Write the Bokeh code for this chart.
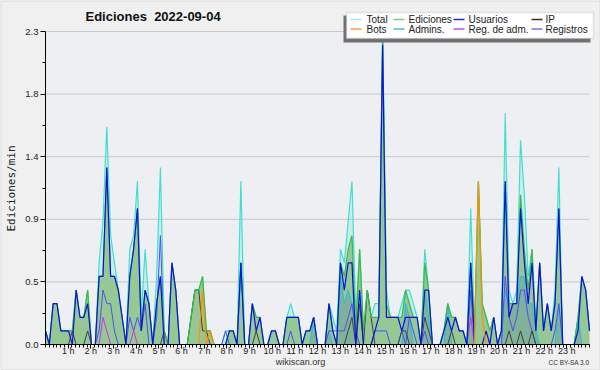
import numpy as np
from math import pi
from bokeh.plotting import figure
from bokeh.models import ColumnDataSource, Range1d, FixedTicker, Label, BoxAnnotation, Arrow
from bokeh.embed import file_html
from bokeh.resources import INLINE

# ---- data (edits per minute, 143 samples over the day) ----
total = [0.1, 0, 0.3, 0.3, 0.1, 0.1,
         0.1, 0.1, 0.4, 0.2, 0.2, 0.4,
         0, 0, 0.6, 0.9, 1.6, 0.8,
         0.6, 0.4, 0.2, 0, 0.7, 0.8,
         1.2, 0.2, 0.7, 0.3, 0, 0.5,
         1.3, 0.1, 0, 0.6, 0.4, 0,
         0, 0, 0.2, 0.4, 0.4, 0.5,
         0.1, 0.1, 0, 0, 0, 0.1,
         0.1, 0.1, 0, 1.2, 0, 0,
         0.3, 0.2, 0.2, 0, 0, 0.1,
         0.1, 0, 0, 0.2, 0.3, 0.2,
         0.2, 0, 0.1, 0.1, 0.2, 0,
         0, 0, 0.3, 0.2, 0.1, 0.7,
         0.6, 0.9, 1.2, 0.2, 0.7, 0.1,
         0.4, 0.2, 0.3, 0.3, 2.3, 0.4,
         0.2, 0.2, 0.2, 0.3, 0.4, 0.4,
         0.3, 0.2, 0, 0.7, 0.4, 0,
         0, 0, 0.1, 0.3, 0.2, 0.2,
         0.1, 0.1, 0, 1.0, 0.1, 1.2,
         0.3, 0.2, 0.1, 0.2, 0, 0.1,
         1.7, 0.4, 0.3, 0.4, 1.5, 1.1,
         0.5, 0.7, 0.1, 0.6, 0.1, 0.3,
         0.1, 0.4, 1.3, 0, 0, 0,
         0, 0.2, 0.5, 0.4, 0.1]

ediciones = [0.1, 0, 0.3, 0.3, 0.1, 0.1,
             0.1, 0.1, 0.4, 0.2, 0.2, 0.4,
             0, 0, 0.5, 0.5, 1.3, 0.5,
             0.5, 0.4, 0.2, 0, 0.5, 0.7,
             1.0, 0.1, 0.4, 0.3, 0, 0.3,
             0.5, 0.1, 0, 0.6, 0.4, 0,
             0, 0, 0.2, 0.4, 0.4, 0.5,
             0.1, 0.1, 0, 0, 0, 0,
             0.1, 0.1, 0, 0.6, 0, 0,
             0.3, 0.2, 0.2, 0, 0, 0.1,
             0.1, 0, 0, 0.2, 0.2, 0.2,
             0.2, 0, 0.1, 0.1, 0.2, 0,
             0, 0, 0.3, 0.1, 0, 0.6,
             0.5, 0.7, 0.8, 0.1, 0.7, 0.1,
             0.4, 0.2, 0.2, 0.2, 2.3, 0.3,
             0.2, 0.2, 0.2, 0.2, 0.4, 0.3,
             0.2, 0.2, 0, 0.6, 0.4, 0,
             0, 0, 0.1, 0.3, 0.2, 0.2,
             0.1, 0.1, 0, 0.6, 0.1, 1.2,
             0.3, 0.2, 0.1, 0.2, 0, 0.1,
             1.2, 0.3, 0.3, 0.3, 1.1, 0.7,
             0.4, 0.7, 0.1, 0.6, 0.1, 0.3,
             0.1, 0.3, 1.0, 0, 0, 0,
             0, 0.2, 0.5, 0.4, 0.1]

usuarios = [0.1, 0, 0.3, 0.3, 0.1, 0.1,
            0.1, 0, 0.4, 0.2, 0.2, 0.3,
            0, 0, 0.5, 0.5, 1.3, 0.5,
            0.5, 0.4, 0.2, 0, 0.5, 0.7,
            1.0, 0.1, 0.4, 0.3, 0, 0.3,
            0.5, 0, 0, 0.6, 0.4, 0,
            0, 0, 0, 0, 0, 0,
            0, 0, 0, 0, 0, 0,
            0.1, 0.1, 0, 0.6, 0, 0,
            0.3, 0.1, 0.2, 0, 0, 0.1,
            0.1, 0, 0, 0.2, 0.2, 0.2,
            0.2, 0, 0.1, 0.1, 0.2, 0,
            0, 0, 0.3, 0.1, 0, 0.6,
            0.4, 0.6, 0.6, 0, 0.4, 0,
            0, 0, 0.1, 0.2, 2.2, 0.2,
            0.2, 0.2, 0.2, 0.1, 0.2, 0.2,
            0.2, 0.2, 0, 0.4, 0.4, 0,
            0, 0, 0.1, 0.2, 0.1, 0.2,
            0.1, 0.1, 0, 0.6, 0, 0,
            0, 0.1, 0, 0.2, 0, 0.1,
            1.2, 0.2, 0.3, 0.3, 1.0, 0.6,
            0.3, 0.6, 0.1, 0.6, 0.1, 0.3,
            0.1, 0.3, 1.0, 0, 0, 0,
            0, 0.1, 0.5, 0.4, 0.1]

ip = [0, 0, 0, 0, 0, 0,
      0, 0.1, 0, 0, 0, 0.1,
      0, 0, 0, 0, 0, 0,
      0, 0, 0, 0, 0, 0,
      0, 0, 0, 0, 0, 0,
      0, 0.1, 0, 0, 0, 0,
      0, 0, 0.2, 0.4, 0.4, 0.1,
      0.1, 0, 0, 0, 0, 0,
      0, 0, 0, 0, 0, 0,
      0, 0.1, 0, 0, 0, 0,
      0, 0, 0, 0, 0, 0,
      0, 0, 0, 0, 0, 0,
      0, 0, 0, 0, 0, 0,
      0, 0.1, 0.2, 0, 0.3, 0,
      0.4, 0.2, 0, 0, 0, 0,
      0, 0, 0, 0.1, 0.1, 0,
      0, 0, 0, 0.2, 0.1, 0,
      0, 0, 0, 0, 0.1, 0,
      0, 0, 0, 0, 0, 0,
      0, 0, 0, 0, 0, 0,
      0, 0.1, 0, 0, 0.1, 0,
      0, 0.1, 0, 0, 0, 0,
      0, 0, 0, 0, 0, 0,
      0, 0, 0, 0, 0]

bots = [0] * 41 + [0.4, 0, 0.1] + [0] * 69 + [1.2, 0.2] + [0] * 28

admins = [0] * 70 + [0.2, 0, 0, 0, 0.1, 0, 0, 0.5,
                     0.3, 0.4, 0.3, 0.1] + [0] * 12 + [
          0.3, 0.2, 0, 0, 0, 0.4, 0.2, 0, 0, 0, 0, 0.3, 0, 0,
          0, 0, 0, 0.6, 0, 0, 0, 0, 0, 0, 0, 0,
          0.4, 0.3, 0.3, 0.3, 0.5, 0.5, 0.3, 0.3, 0.1, 0, 0, 0,
          0, 0, 0.3, 0, 0, 0, 0, 0.2, 0, 0, 0]

reg_adm = [0] * 15 + [0.2, 0.1, 0, 0, 0, 0, 0, 0, 0.1] + [0] * 87 + [0.2] + [0] * 31

registros = [0, 0, 0, 0, 0, 0,
             0, 0, 0, 0, 0, 0,
             0, 0, 0.1, 0.4, 0.3, 0.3,
             0.1, 0, 0, 0, 0.2, 0.1,
             0.2, 0.1, 0.3, 0, 0, 0.2,
             0.8, 0, 0, 0, 0, 0,
             0, 0, 0, 0, 0, 0,
             0, 0, 0, 0, 0, 0.1,
             0, 0, 0, 0.6, 0, 0,
             0, 0, 0, 0, 0, 0,
             0, 0, 0, 0, 0.1, 0,
             0, 0, 0, 0, 0, 0,
             0, 0, 0.1, 0.1, 0.1, 0.1,
             0.1, 0.2, 0.3, 0.1, 0, 0,
             0, 0, 0.1, 0.1, 0.1, 0.1,
             0, 0, 0, 0.1, 0, 0.2,
             0.1, 0, 0, 0.1, 0, 0,
             0, 0, 0, 0, 0, 0,
             0, 0, 0, 0.4, 0, 0,
             0, 0, 0, 0, 0, 0,
             0.5, 0.2, 0.1, 0.2, 0.4, 0.4,
             0.2, 0.1, 0, 0, 0, 0,
             0, 0.1, 0.3, 0, 0, 0,
             0, 0, 0, 0, 0]

x_tick_hours = list(range(1, 24))
x_tick_labels = [f"{h} h" for h in x_tick_hours]
y_tick_values = [0, 0.46, 0.92, 1.38, 1.84, 2.3]
y_tick_labels = ["0.0", "0.5", "0.9", "1.4", "1.8", "2.3"]

legend_rows = [[("Total", "#a8e6df"), ("Ediciones", "#80cc80"), ("Usuarios", "#2a2ad0"), ("IP", "#333333")],
               [("Bots", "#ff9a33"), ("Admins.", "#33c8dd"), ("Reg. de adm.", "#cc44ee"), ("Registros", "#7070ee")]]

# ---- layout: the frame covers the whole canvas; plot area is 45..589 x 31..344 px ----
W, H = 600, 370
PL, PR, PT, PB = 45, 589, 31, 344
XMAX, YMAX = 24.0, 2.3
sx = (PR - PL) / XMAX
sy = (PB - PT) / YMAX

def dx(px):
    return (px - PL) / sx

def dy(py):
    return (PB - py) / sy

N = len(total)
hours = np.linspace(0, XMAX, N)
src = ColumnDataSource(dict(x=hours, total=total, ed=ediciones, us=usuarios, ip=ip,
                            bots=bots, adm=admins, radm=reg_adm, reg=registros))

p = figure(width=W, height=H, x_range=Range1d(dx(0), dx(W)), y_range=Range1d(dy(H), dy(0)),
           output_backend="svg", toolbar_location=None, title=None,
           min_border_left=0, min_border_right=0, min_border_top=0, min_border_bottom=0)
p.background_fill_color = "#f0f0f0"
p.border_fill_color = "#f0f0f0"
p.outline_line_color = None
p.xgrid.visible = False
p.ygrid.visible = False

# plot area background and outer frame
p.add_layout(BoxAnnotation(left=0, right=XMAX, bottom=0, top=YMAX, fill_color="#edeff2",
                           fill_alpha=1.0, line_color=None, level="underlay"))
p.add_layout(BoxAnnotation(fill_alpha=0.0, line_color="#a8a8a8", line_width=2))

# horizontal grid lines at the y ticks
p.segment(x0=0, x1=XMAX, y0=y_tick_values[1:], y1=y_tick_values[1:], line_color="#c8c8c8", line_width=1)

# fills
p.varea(x="x", y1=0, y2="total", source=src, fill_color="#40e0d0", fill_alpha=0.2)
p.varea(x="x", y1=0, y2="ed", source=src, fill_color="#96c896", fill_alpha=1.0)
p.varea(x="x", y1=0, y2="adm", source=src, fill_color="#3366aa", fill_alpha=0.22)

# lines
p.line(x="x", y="total", source=src, line_color="#40e0d0", line_width=1.2)
p.line(x="x", y="adm", source=src, line_color="#20c0e0", line_width=1.0)
p.line(x="x", y="reg", source=src, line_color="#5050f0", line_width=1.0)
p.line(x="x", y="ip", source=src, line_color="#404040", line_width=1.0)
p.line(x="x", y="radm", source=src, line_color="#cc33ee", line_width=1.0)
p.line(x="x", y="ed", source=src, line_color="#3cb843", line_width=1.2)
p.line(x="x", y="us", source=src, line_color="#1010dd", line_width=1.2)
p.line(x="x", y="bots", source=src, line_color="#ff9000", line_width=1.2)

# axes pinned at the data origin
p.xaxis.fixed_location = 0
p.yaxis.fixed_location = 0
p.xaxis.bounds = (0, XMAX)
p.yaxis.bounds = (0, YMAX)
p.xaxis.ticker = FixedTicker(ticks=x_tick_hours, minor_ticks=[k / 6 for k in range(0, 145)])
p.xaxis.major_label_overrides = {h: l for h, l in zip(x_tick_hours, x_tick_labels)}
p.yaxis.ticker = FixedTicker(ticks=y_tick_values,
                             minor_ticks=[(a + b) / 2 for a, b in zip(y_tick_values[:-1], y_tick_values[1:])])
p.yaxis.major_label_overrides = {v: l for v, l in zip(y_tick_values, y_tick_labels)}
for ax in (p.xaxis, p.yaxis):
    ax.axis_line_color = "black"
    ax.major_tick_line_color = "black"
    ax.minor_tick_line_color = "black"
    ax.major_tick_in = 0
    ax.minor_tick_in = 0
    ax.minor_tick_out = 3
    ax.major_label_text_font = "Liberation Sans"
    ax.major_label_text_color = "#222222"
p.xaxis.major_tick_out = 4
p.yaxis.major_tick_out = 5
p.xaxis.major_label_text_font_size = "9px"
p.yaxis.major_label_text_font_size = "9.5px"
p.xaxis.major_label_standoff = -3
p.yaxis.major_label_standoff = 2

# texts
p.add_layout(Label(x=dx(85), y=dy(16), text="Ediciones \u00a02022-09-04", text_font="Liberation Sans",
                   text_font_style="bold", text_font_size="13px", text_baseline="middle",
                   text_color="#111111"))
p.add_layout(Label(x=dx(11), y=dy(188), text="Ediciones/min", angle=pi / 2, text_align="center",
                   text_baseline="middle", text_font="DejaVu Sans Mono", text_font_size="11px",
                   text_color="#222222"))
p.add_layout(Label(x=dx(300), y=dy(361), text="wikiscan.org", text_align="center",
                   text_baseline="middle", text_font="Liberation Sans", text_font_size="9px",
                   text_color="#333333"))
p.add_layout(Label(x=dx(589), y=dy(362), text="CC BY-SA 3.0", text_align="right",
                   text_baseline="middle", text_font="Liberation Sans", text_font_size="6.5px",
                   text_color="#333333"))

# legend box with shadow
p.add_layout(BoxAnnotation(left=dx(343), right=dx(590), top=dy(15), bottom=dy(42),
                           fill_color="#707070", fill_alpha=1.0, line_color=None))
p.add_layout(BoxAnnotation(left=dx(346), right=dx(593), top=dy(12), bottom=dy(38),
                           fill_color="white", fill_alpha=1.0, line_color="#aaaaaa", line_width=1.5))
col_sw = [350, 393, 453, 531]
col_tx = [366, 408, 468, 545]
row_y = [19, 28.5]
for r, row in enumerate(legend_rows):
    for c, (lab, col) in enumerate(row):
        yy = dy(row_y[r])
        p.add_layout(Arrow(end=None, x_start=dx(col_sw[c]), x_end=dx(col_sw[c] + 11),
                           y_start=yy, y_end=yy, line_color=col, line_width=1.5))
        p.add_layout(Label(x=dx(col_tx[c]), y=yy, text=lab, text_baseline="middle",
                           text_font="Liberation Sans", text_font_size="10px", text_color="#222222"))

open("out.html", "w").write(file_html(p, INLINE))
